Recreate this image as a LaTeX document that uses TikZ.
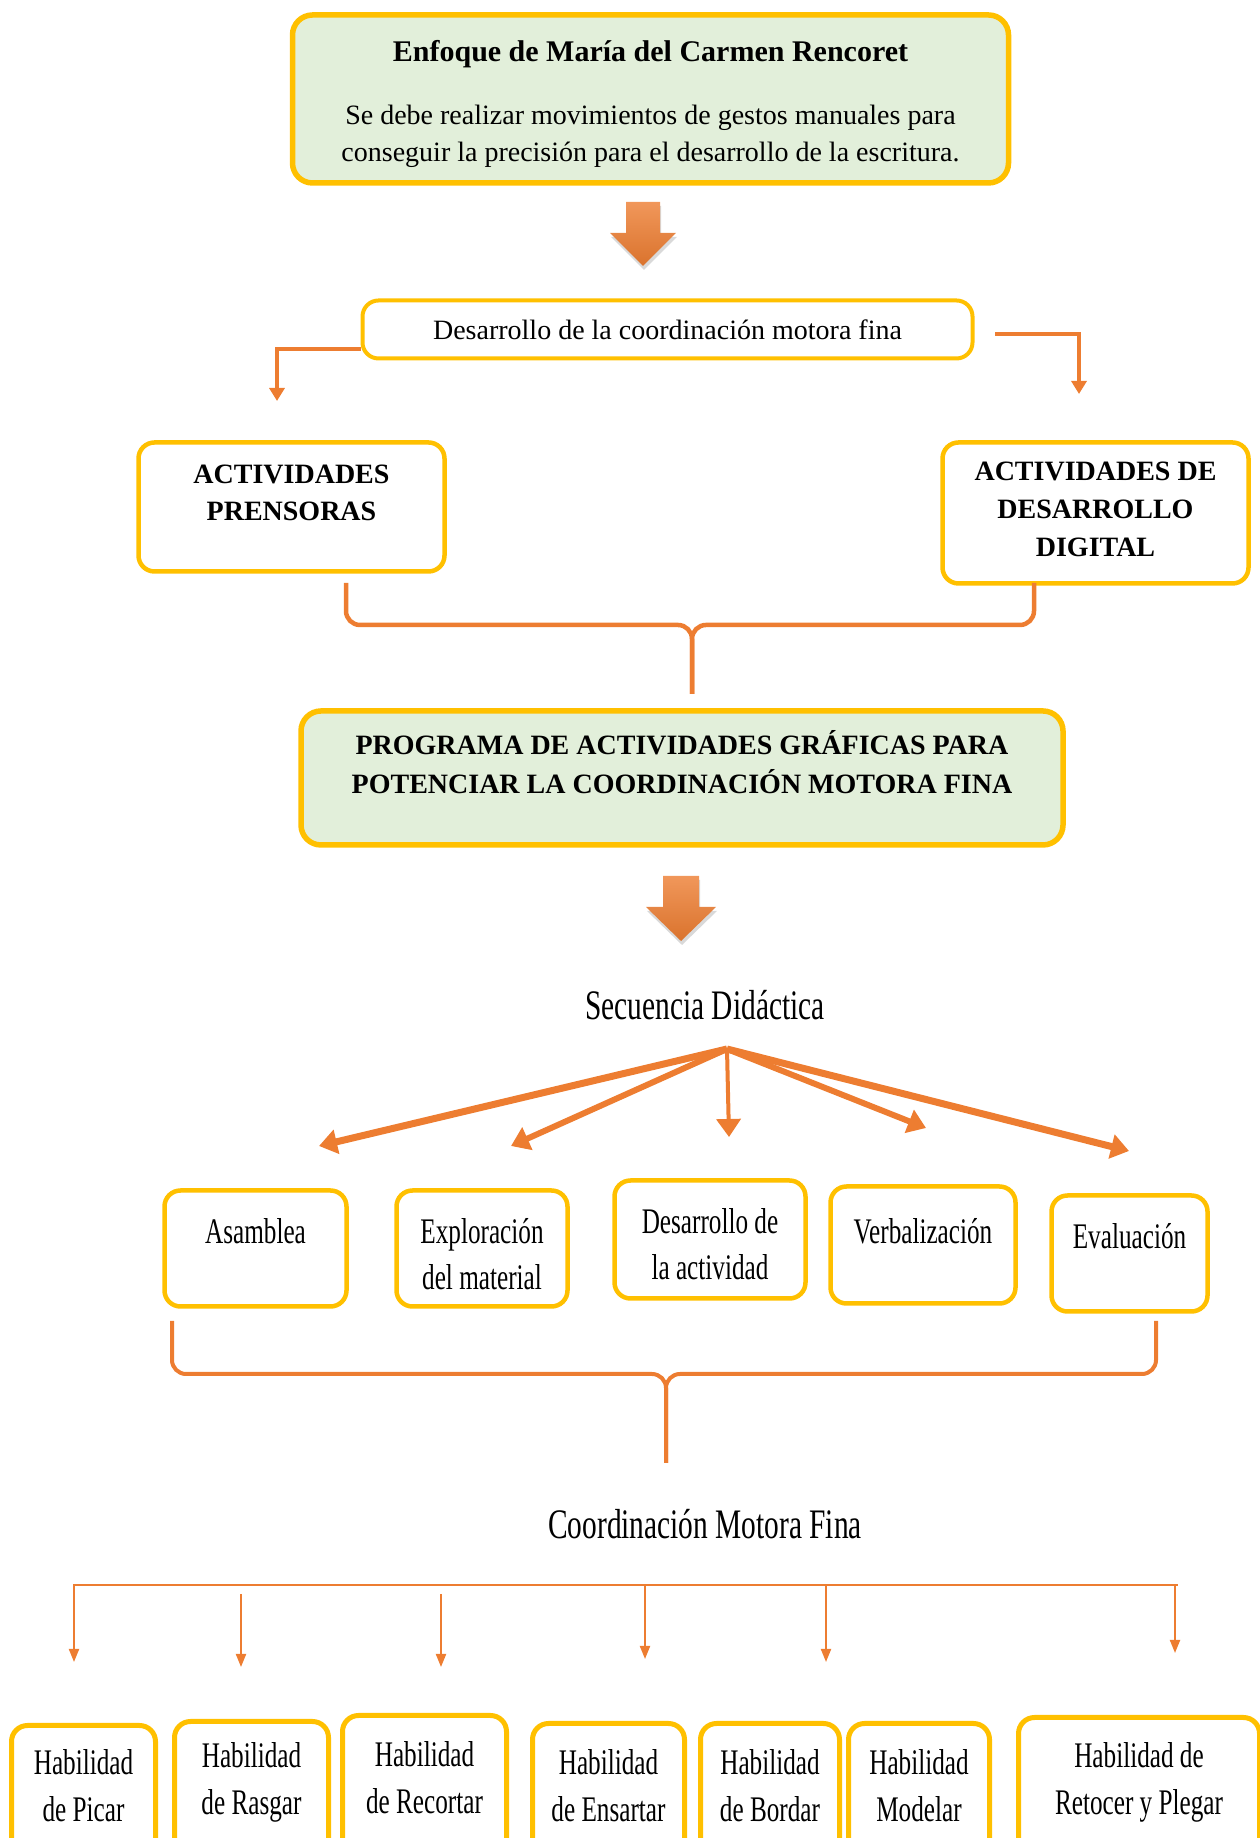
\documentclass[tikz,border=0pt]{standalone}
\usepackage{fontspec}
\setmainfont{Liberation Serif}
\newfontfamily\condfont[FakeStretch=0.7]{Liberation Serif}
\usetikzlibrary{arrows.meta,shadows,calc}
\definecolor{gold}{HTML}{FFC000}
\definecolor{orng}{HTML}{ED7D31}
\definecolor{pale}{HTML}{E2EFDA}
\begin{document}
\begin{tikzpicture}[x=1pt,y=1pt,
  gbox/.style={draw=gold, line width=5.5pt, rounded corners=20pt, fill=pale, inner sep=0pt, align=center},
  wbox/.style={draw=gold, line width=4.5pt, rounded corners=16pt, fill=white, inner sep=0pt, align=center},
  hbox/.style={draw=gold, line width=5pt, rounded corners=16pt, fill=white, inner sep=0pt, anchor=north},
  conn/.style={draw=orng, line width=4.5pt},
  arr/.style={-{Triangle[width=15pt,length=13pt]}},
  fanarr/.style={draw=orng, -{Triangle[width=24pt,length=18pt]}},
  thinarr/.style={draw=orng, line width=2pt, -{Triangle[width=10pt,length=13pt]}},
  bigarrow/.style={top color=orng!80!white, bottom color=orng!92!black, draw=none,
     drop shadow={shadow xshift=1pt, shadow yshift=-4pt, opacity=0.3}},
  boldtxt/.style={font=\fontsize{28}{37}\selectfont\bfseries, align=center, inner sep=0pt},
  condtxt/.style={font=\condfont\fontsize{36}{46}\selectfont, align=center, inner sep=0pt},
  condtxtb/.style={font=\condfont\fontsize{36}{47}\selectfont, align=center, inner sep=0pt}
]
\useasboundingbox (0,0) rectangle (1259,1838);

% Top box
\node[gbox, minimum width=716pt, minimum height=168pt] (enfoque) at (650.5,1739) {};
\node[font=\fontsize{28}{37}\selectfont, align=center, inner sep=0pt] (enfoquet) at (650.5,1734)
 {{\fontsize{30}{37}\selectfont\bfseries Enfoque de María del Carmen Rencoret}\\[26pt]
  Se debe realizar movimientos de gestos manuales para\\
  conseguir la precisión para el desarrollo de la escritura.};

% big arrow 1
\path[bigarrow] (626,1636) -- (660,1636) -- (660,1605) -- (676,1605) -- (643,1572) -- (610,1605) -- (626,1605) -- cycle;

% Desarrollo box
\node[wbox, line width=4pt, minimum width=610pt, minimum height=58pt, font=\fontsize{28}{34}\selectfont] (desarrollo) at (667.5,1508.5)
 {Desarrollo de la coordinación motora fina};

% side boxes
\node[wbox, minimum width=306pt, minimum height=129pt] (pren) at (291.5,1331) {};
\node[boldtxt] (prent) at (291.5,1345.5) {ACTIVIDADES\\PRENSORAS};
\node[wbox, minimum width=306pt, minimum height=141pt] (digi) at (1095.5,1325) {};
\node[boldtxt, font=\fontsize{28}{38}\selectfont\bfseries] (digit) at (1095.5,1328.5) {ACTIVIDADES DE\\DESARROLLO\\DIGITAL};

% connectors from Desarrollo
\coordinate (lend) at (277,1437);
\coordinate (rstart) at (995,1504);
\coordinate (rend) at (1079,1444);
\draw[conn, arr] (desarrollo.west |- 0,1489) -- (lend |- 0,1489) -- (lend);
\draw[conn, arr] (rstart) -- (rstart -| rend) -- (rend);

% brace 1
\coordinate (b1l) at (346,1255);
\coordinate (b1r) at (1034,1255);
\coordinate (b1c) at (692,1213);
\coordinate (b1s) at (692,1144);
\draw[conn, rounded corners=14pt] (b1l) -- (b1l |- b1c) -- (b1c) -- (b1s);
\draw[conn, rounded corners=14pt] (b1r) -- (b1r |- b1c) -- (b1c) -- (b1s);

% Programa box
\node[gbox, minimum width=762pt, minimum height=134pt] (prog) at (682,1060) {};
\node[boldtxt, font=\fontsize{28}{39}\selectfont\bfseries] (progt) at (682,1075.5)
 {PROGRAMA DE ACTIVIDADES GRÁFICAS PARA\\POTENCIAR LA COORDINACIÓN MOTORA FINA};

% big arrow 2
\path[bigarrow] (663,962) -- (699,962) -- (699,931) -- (716,931) -- (681,897) -- (646,931) -- (663,931) -- cycle;

% Secuencia
\node[font=\condfont\fontsize{42}{46}\selectfont, inner sep=0pt] (sec) at (705,833) {Secuencia Didáctica};

\coordinate (fan) at (727,789);
\coordinate (f1) at (319,692);
\coordinate (f2) at (511,692);
\coordinate (f3) at (729,701);
\coordinate (f4) at (926,710);
\coordinate (f5) at (1129,687);
\draw[fanarr, line width=7pt] (fan) -- (f1);
\draw[fanarr, line width=6pt] (fan) -- (f2);
\draw[fanarr, line width=4pt] (fan) -- (f3);
\draw[fanarr, line width=6pt] (fan) -- (f4);
\draw[fanarr, line width=7pt] (fan) -- (f5);

% row boxes
\node[wbox, minimum width=182pt, minimum height=116pt] (asam) at (255.5,589.5) {};
\node[condtxt] (asamt) at (255.5,607) {Asamblea};
\node[wbox, minimum width=171pt, minimum height=116pt] (expl) at (482,589.5) {};
\node[condtxt] (explt) at (482,584) {Exploración\\del material};
\node[wbox, minimum width=191pt, minimum height=118pt] (dact) at (710,598.5) {};
\node[condtxt] (dactt) at (710,593.5) {Desarrollo de\\la actividad};
\node[wbox, minimum width=185pt, minimum height=117pt] (verb) at (923,593) {};
\node[condtxt] (verbt) at (923,607) {Verbalización};
\node[wbox, minimum width=156pt, minimum height=116pt] (eval) at (1129.5,584.5) {};
\node[condtxt] (evalt) at (1129.5,602) {Evaluación};

% brace 2
\coordinate (b2l) at (172,517);
\coordinate (b2r) at (1156,517);
\coordinate (b2c) at (666,464);
\coordinate (b2s) at (666,375);
\draw[conn, line width=4pt, rounded corners=14pt] (b2l) -- (b2l |- b2c) -- (b2c) -- (b2s);
\draw[conn, line width=4pt, rounded corners=14pt] (b2r) -- (b2r |- b2c) -- (b2c) -- (b2s);

% Coordinacion
\node[font=\condfont\fontsize{42}{46}\selectfont, inner sep=0pt] (cmf) at (705,314) {Coordinación Motora Fina};

% horizontal distribution line
\coordinate (hl) at (73,253);
\coordinate (hr) at (1178,253);
\draw[orng, line width=2.5pt] (hl) -- (hr);

% bottom boxes
\node[hbox, minimum width=144pt, minimum height=155pt] (picar) at (83.5,115) {};
\node[condtxtb] (picart) at (83.5,52.5) {Habilidad\\de Picar};
\node[hbox, minimum width=154pt, minimum height=159pt] (rasgar) at (251.5,119) {};
\node[condtxtb] (rasgart) at (251.5,56) {Habilidad\\de Rasgar};
\node[hbox, minimum width=164pt, minimum height=165pt] (recortar) at (424.5,125) {};
\node[condtxtb] (recortart) at (424.5,60) {Habilidad\\de Recortar};
\node[hbox, minimum width=152pt, minimum height=157pt] (ensartar) at (608.5,117) {};
\node[condtxtb] (ensartart) at (608.5,52.5) {Habilidad\\de Ensartar};
\node[hbox, minimum width=139pt, minimum height=157pt] (bordar) at (770,117) {};
\node[condtxtb] (bordart) at (770,52.5) {Habilidad\\de Bordar};
\node[hbox, minimum width=141pt, minimum height=157pt] (modelar) at (919,117) {};
\node[condtxtb] (modelart) at (919,52.5) {Habilidad\\Modelar};
\node[hbox, minimum width=241pt, minimum height=163pt] (retocer) at (1139,123) {};
\node[condtxtb] (retocert) at (1139,56) {Habilidad de\\Retocer y Plegar};

% down arrows
\coordinate (d1s) at (74,253);   \coordinate (d1e) at (74,176);
\coordinate (d2s) at (241,244);  \coordinate (d2e) at (241,171);
\coordinate (d3s) at (441,244);  \coordinate (d3e) at (441,171);
\coordinate (d4s) at (645,253);  \coordinate (d4e) at (645,179);
\coordinate (d5s) at (826,253);  \coordinate (d5e) at (826,176);
\coordinate (d6s) at (1175,253); \coordinate (d6e) at (1175,185);
\foreach \i in {1,...,6} { \draw[thinarr] (d\i s) -- (d\i e); }
\end{tikzpicture}
\end{document}
